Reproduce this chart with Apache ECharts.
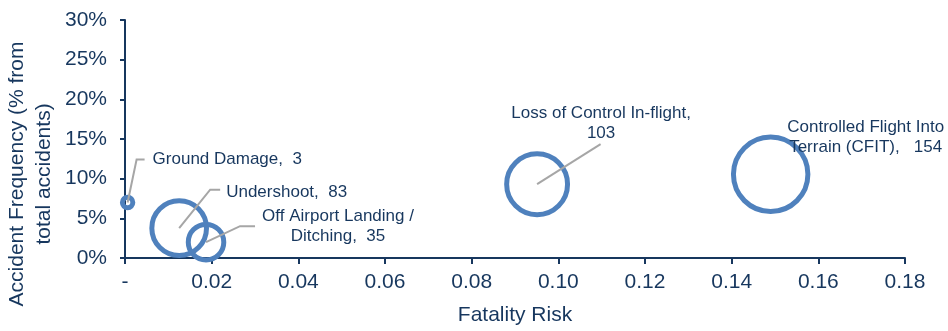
<!DOCTYPE html>
<html>
<head>
<meta charset="utf-8">
<script src="https://cdn.jsdelivr.net/npm/echarts@6/dist/echarts.min.js"></script>
<style>
html,body{margin:0;padding:0;background:#fff;}
#chart{width:948px;height:331px;}
</style>
</head>
<body>
<div id="chart"></div>
<script>
// ---- data ----
const categories = ['Ground Damage', 'Undershoot', 'Off Airport Landing /\nDitching', 'Loss of Control In-flight', 'Controlled Flight Into\nTerrain (CFIT)'];
const fatalityRisk = [0.0006, 0.0125, 0.0187, 0.0951, 0.1490];
const accidentFreq = [7.0, 3.76, 2.0, 9.3, 10.55];   // percent
const accidentCount = [3, 83, 35, 103, 154];
const xTicks = ['-', '0.02', '0.04', '0.06', '0.08', '0.10', '0.12', '0.14', '0.16', '0.18'];
const yTicks = ['0%', '5%', '10%', '15%', '20%', '25%', '30%'];

// ---- label layout (pixel offsets from bubble centre) ----
const labelLayout = [
  {sep: ',  ', line: [[9, -43], [17, -43]], text: [25, -43], align: 'left'},
  {sep: ',  ', line: [[31, -38.5], [41, -38.5]], text: [47, -36], align: 'left'},
  {sep: ',  ', line: [[34, -16], [49, -16]], text: [132, -15.5], align: 'center'},
  {sep: ',\n', line: [[63.5, -40]], text: [64, -61], align: 'center'},
  {sep: ',   ', line: null, text: [95, -37], align: 'center'}
];

const navy = '#17375E';
const blue = '#4F81BD';
const grey = '#A6A6A6';
const font = 'Liberation Sans, Arial, sans-serif';

const bubbleData = fatalityRisk.map((x, i) => [x, accidentFreq[i], accidentCount[i]]);
const labelData = fatalityRisk.map((x, i) => [x, accidentFreq[i], i]);

const chart = echarts.init(document.getElementById('chart'), null, {renderer: 'canvas'});
chart.setOption({
  backgroundColor: '#ffffff',
  animation: false,
  grid: {left: 125, right: 43, top: 20, bottom: 69, containLabel: false},
  xAxis: {
    type: 'value', min: 0, max: 0.18, interval: 0.02,
    name: 'Fatality Risk', nameLocation: 'middle', nameGap: 47,
    nameTextStyle: {color: navy, fontSize: 21, fontFamily: font},
    axisLine: {show: true, onZero: false, lineStyle: {color: navy, width: 2}},
    axisTick: {show: true, inside: false, length: 6, lineStyle: {color: navy, width: 2}},
    axisLabel: {
      color: navy, fontSize: 21, fontFamily: font, margin: 14,
      formatter: (v) => xTicks[Math.round(v / 0.02)]
    },
    splitLine: {show: false}
  },
  yAxis: {
    type: 'value', min: 0, max: 30, interval: 5,
    axisLine: {show: true, onZero: false, lineStyle: {color: navy, width: 2}},
    axisTick: {show: true, inside: false, length: 5, lineStyle: {color: navy, width: 2}},
    axisLabel: {
      color: navy, fontSize: 21, fontFamily: font, margin: 18,
      formatter: (v) => yTicks[Math.round(v / 5)]
    },
    splitLine: {show: false}
  },
  graphic: [{
    type: 'text', x: 31, y: 174, rotation: Math.PI / 2,
    style: {
      text: 'Accident Frequency (% from\ntotal accidents)',
      fill: navy, font: '21px ' + font, align: 'center', verticalAlign: 'middle', lineHeight: 27
    }
  }],
  series: [
    {
      type: 'scatter',
      data: bubbleData,
      symbol: 'circle',
      symbolSize: (d) => 6 * Math.sqrt(d[2]),
      itemStyle: {color: 'rgba(255,255,255,0)', borderColor: blue, borderWidth: 5, opacity: 1},
      emphasis: {disabled: true},
      z: 2
    },
    {
      type: 'custom',
      data: labelData,
      z: 5,
      renderItem: function (params, api) {
        const c = api.coord([api.value(0), api.value(1)]);
        const i = api.value(2);
        const L = labelLayout[i];
        const children = [];
        if (L.line) {
          const pts = [c].concat(L.line.map(p => [c[0] + p[0], c[1] + p[1]]));
          children.push({type: 'polyline', shape: {points: pts}, style: {stroke: grey, lineWidth: 2, fill: null}});
        }
        children.push({
          type: 'text',
          x: c[0] + L.text[0], y: c[1] + L.text[1],
          style: {
            text: categories[i] + L.sep + accidentCount[i],
            fill: navy, font: '17px ' + font,
            align: L.align, verticalAlign: 'middle', lineHeight: 20
          }
        });
        return {type: 'group', children: children};
      }
    }
  ]
});
</script>
</body>
</html>
